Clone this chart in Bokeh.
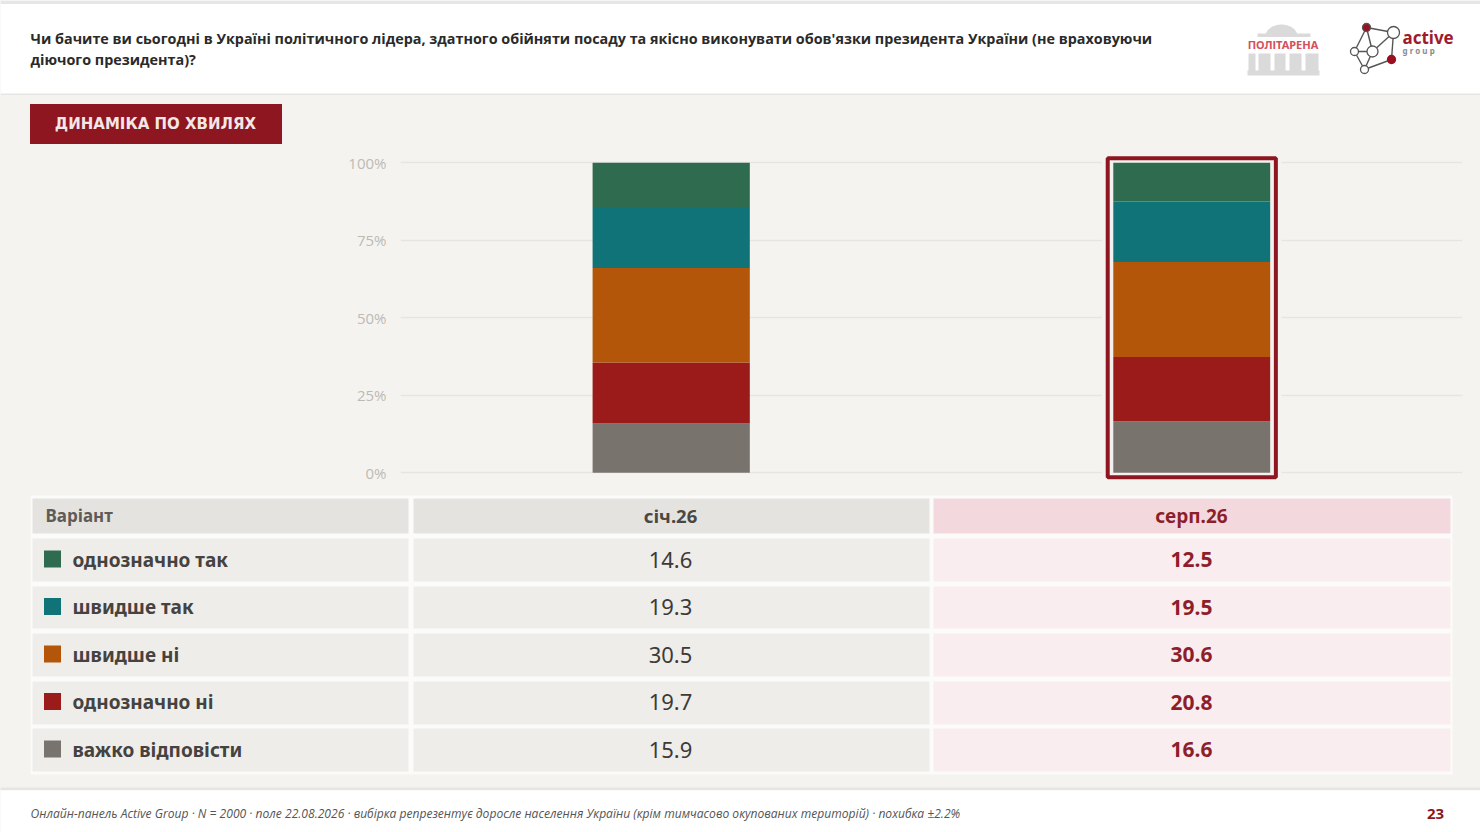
from bokeh.plotting import figure
from bokeh.layouts import column, row
from bokeh.models import Range1d, FactorRange, FixedTicker, PrintfTickFormatter
from bokeh.core.properties import value
from bokeh.embed import file_html
from bokeh.resources import INLINE

waves = ["січ.26", "серп.26"]
options = ["однозначно так", "швидше так", "швидше ні", "однозначно ні", "важко відповісти"]
jan26 = [14.6, 19.3, 30.5, 19.7, 15.9]
aug26 = [12.5, 19.5, 30.6, 20.8, 16.6]
colors = ["#2f6b4f", "#0f7377", "#b4560a", "#9b1a1a", "#78736c"]
y_ticks = [0, 25, 50, 75, 100]

title_lines = ["Чи бачите ви сьогодні в Україні політичного лідера, здатного обійняти посаду та якісно виконувати обов'язки президента України (не враховуючи",
               "діючого президента)?"]
tag = "ДИНАМІКА ПО ХВИЛЯХ"
first_col = "Варіант"
footnote = "Онлайн-панель Active Group · N = 2000 · поле 22.08.2026 · вибірка репрезентує доросле населення України (крім тимчасово окупованих територій) · похибка ±2.2%"
page_no = "23"

BG = "#f5f3ef"
RED = "#8d1620"


def panel(w, h, x0, x1, y0, y1, bg):
    f = figure(width=w, height=h, x_range=Range1d(x0, x1), y_range=Range1d(y1, y0),
               output_backend="svg", toolbar_location=None, min_border=0,
               background_fill_color=bg, border_fill_color=bg, outline_line_color=None)
    f.axis.visible = False
    f.grid.visible = False
    return f


def label(f, x, y, s, size, color, font="Open Sans", style="normal", align="left"):
    f.text([x], [y], text=[s], text_font=value(font), text_font_size=f"{size}px",
           text_font_style=style, text_color=color, text_align=align, text_baseline="middle")


# ---------- header ----------
head = panel(1480, 95, 0, 1480, 0, 95, "#ffffff")
head.quad(left=[0], right=[1480], top=[0], bottom=[3.5], fill_color="#e6e6e6", line_color=None)
head.quad(left=[0], right=[1480], top=[93], bottom=[95], fill_color="#e6e5e2", line_color=None)
label(head, 30, 37.5, title_lines[0], 14.37, "#2a2a2a", style="bold")
label(head, 30, 58.5, title_lines[1], 14.37, "#2a2a2a", style="bold")

# parliament logo
head.ellipse(x=[1281], y=[36], width=32, height=24, fill_color="#dadada", line_color=None)
head.quad(left=[1240], right=[1325], top=[36], bottom=[53], fill_color="#ffffff", line_color=None)
head.quad(left=[1257], right=[1310], top=[33], bottom=[36.5], fill_color="#dadada", line_color=None)
head.quad(left=[1248, 1258, 1274, 1289, 1305], right=[1255, 1270, 1285, 1301, 1318],
          top=[53] * 5, bottom=[72] * 5, fill_color="#dadada", line_color=None)
head.quad(left=[1247], right=[1319], top=[70], bottom=[75], fill_color="#dadada", line_color=None)
label(head, 1282.5, 44, "ПОЛІТАРЕНА", 11, "#d5505c", font="Noto Sans", style="bold", align="center")

# active group logo
nx = [1366, 1393, 1372, 1354, 1391, 1364]
ny = [27, 32, 51, 51, 59, 69]
nr = [4, 6, 5.5, 4, 4, 4]
nc = ["#9b1020", "#ffffff", "#ffffff", "#ffffff", "#9b1020", "#ffffff"]
for a, b in [(0, 1), (1, 4), (4, 5), (5, 3), (3, 0), (2, 1), (2, 3), (2, 5), (2, 0)]:
    head.line([nx[a], nx[b]], [ny[a], ny[b]], line_color="#555555", line_width=1.4)
head.circle(x=nx, y=ny, radius=nr, fill_color=nc, line_color=["#555555", "#555555", "#555555", "#555555", "#9b1020", "#555555"], line_width=1.3)
label(head, 1402, 36.5, "active", 17, "#a01a2c", font="Noto Sans", style="bold")
label(head, 1402, 50, "g r o u p", 8, "#8a8a8a", font="Noto Sans", style="bold")

# ---------- tag ----------
side = panel(345, 395, 0, 345, 95, 490, BG)
side.quad(left=[29.5], right=[281.5], top=[103.5], bottom=[143.5], fill_color=RED, line_color=None)
label(side, 155, 123.5, tag, 15, "#f3e6e6", font="DejaVu Sans", style="bold", align="center")

# ---------- chart ----------
chart = figure(width=1135, height=395, x_range=FactorRange(factors=waves, factor_padding=0, range_padding=0.02, range_padding_units="absolute"),
               y_range=Range1d(-5.7, 121.72), output_backend="svg", toolbar_location=None,
               min_border_left=55, min_border_right=18, min_border_top=0, min_border_bottom=0,
               background_fill_color=BG, border_fill_color=BG, outline_line_color=None)
chart.xaxis.visible = False
chart.xgrid.visible = False
chart.ygrid.grid_line_color = "#e7e5e1"
chart.ygrid.grid_line_width = 1.5
chart.ygrid.ticker = FixedTicker(ticks=y_ticks)
ax = chart.yaxis[0]
ax.ticker = FixedTicker(ticks=y_ticks)
ax.formatter = PrintfTickFormatter(format="%d%%")
ax.axis_line_color = None
ax.major_tick_line_color = None
ax.minor_tick_line_color = None
ax.major_label_standoff = 8
ax.major_label_text_color = "#bdbab5"
ax.major_label_text_font = "Open Sans"
ax.major_label_text_font_size = "15px"

chart.vbar(x=[waves[1]], width=0.345, bottom=-3, top=103.5, fill_color=BG, line_color=None)
stack_keys = [f"s{i}" for i in range(5)]
data = {"x": waves}
for i, k in enumerate(stack_keys):
    data[k] = [jan26[i], aug26[i]]
order = list(range(4, -1, -1))
chart.vbar_stack([stack_keys[i] for i in order], x="x", width=0.302, source=data,
                 fill_color=[colors[i] for i in order], line_color=None)
chart.vbar(x=[waves[1]], width=0.306, bottom=-0.7, top=100.7, fill_color=None, line_color="#f1f0ee", line_width=2)
chart.vbar(x=[waves[1]], width=0.323, bottom=-1.45, top=101.45, fill_color=None, line_color=RED, line_width=4)

# ---------- table ----------
tab = panel(1480, 300, 0, 1480, 490, 790, BG)
tab.quad(left=[0], right=[1480], top=[787], bottom=[790], fill_color="#e6e5e2", line_color=None)
tab.quad(left=[30], right=[1452], top=[495], bottom=[774], fill_color="#fbfbfa", line_color=None)
col_l = [32, 413, 933]
col_r = [408, 929, 1450]
head_fill = ["#e5e3df", "#e5e3df", "#f3d9de"]
cell_fill = ["#eeedea", "#eeedea", "#faedef"]
tab.quad(left=col_l, right=col_r, top=[498] * 3, bottom=[533] * 3, fill_color=head_fill, line_color=None)
label(tab, 45, 515, first_col, 17, "#5f5b57", font="Noto Sans", style="bold")
label(tab, 670, 515, waves[0], 18.5, "#4a4744", font="Noto Sans", style="bold", align="center")
label(tab, 1191, 515.5, waves[1], 19, "#8d1f2b", font="Noto Sans", style="bold", align="center")
tops = [538, 586, 633, 681, 728]
bots = [581, 628, 676, 724, 771]
mids = [560, 607.5, 655, 702.5, 750]
for i, name in enumerate(options):
    tab.quad(left=col_l, right=col_r, top=[tops[i]] * 3, bottom=[bots[i]] * 3, fill_color=cell_fill, line_color=None)
    tab.quad(left=[43.5], right=[60.5], top=[mids[i] - 10], bottom=[mids[i] + 7], fill_color=colors[i], line_color=None)
    label(tab, 72, mids[i] - 1, name, 19, "#45423f", font="Noto Sans", style="bold")
    label(tab, 670, mids[i] - 1, f"{jan26[i]:.1f}", 22, "#3d3a38", font="Noto Sans", align="center")
    label(tab, 1191, mids[i] - 1, f"{aug26[i]:.1f}", 21, "#8d1f2b", font="Noto Sans", style="bold", align="center")

# ---------- footer ----------
foot = panel(1480, 42, 0, 1480, 790, 832, "#ffffff")
label(foot, 30, 813, footnote, 12.1, "#555555", style="italic")
label(foot, 1435, 813.5, page_no, 15, RED, font="Noto Sans", style="bold", align="center")

page = column(head, row(side, chart, spacing=0, styles={"background-color": BG}), tab, foot, spacing=0,
              styles={"position": "absolute", "left": "0px", "top": "0px", "background-color": BG})
open("out.html", "w").write(file_html(page, INLINE))
